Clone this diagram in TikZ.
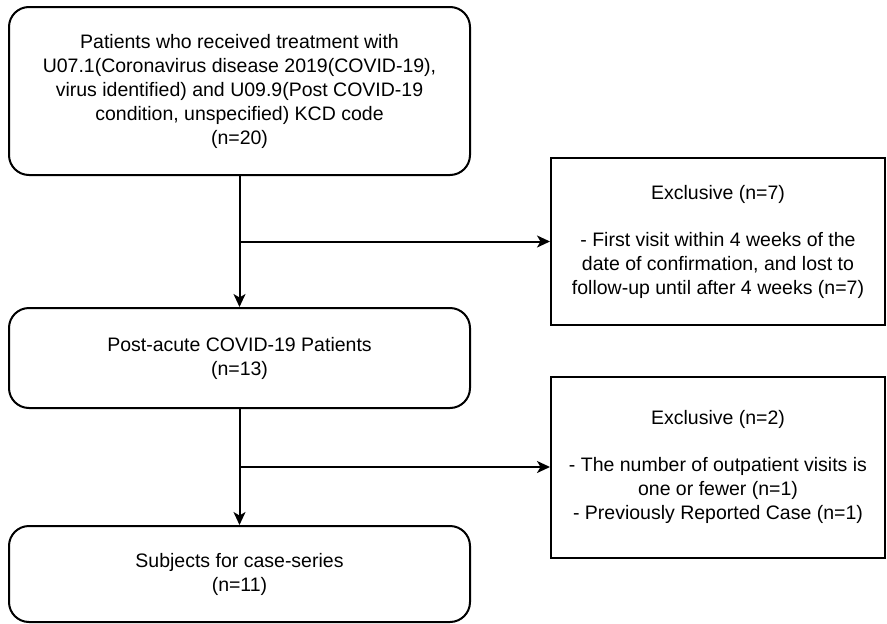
\documentclass[tikz,border=0pt]{standalone}
\usepackage{fontspec}
\setmainfont{Liberation Sans}
\usetikzlibrary{arrows.meta}
\begin{document}
\begin{tikzpicture}[x=1pt,y=-1pt,
  every node/.style={font=\fontsize{19.5}{24}\selectfont, align=center, inner sep=0pt},
  rbox/.style={draw, line width=2pt, rounded corners=20pt},
  sbox/.style={draw, line width=2pt},
  arr/.style={line width=2pt, -{Stealth[length=13pt,width=12pt,inset=3.5pt]}}]
\useasboundingbox (0,0) rectangle (887,624);
\node[rbox, minimum width=461pt, minimum height=168pt] (b1) at (239.5,91)
  {Patients who received treatment with\\U07.1(Coronavirus disease 2019(COVID-19),\\virus identified) and U09.9(Post COVID-19\\condition, unspecified) KCD code\\(n=20)};
\node[rbox, minimum width=461pt, minimum height=100pt] (b2) at (239.5,358)
  {Post-acute COVID-19 Patients\\(n=13)};
\node[rbox, minimum width=461pt, minimum height=96pt] (b3) at (239.5,574)
  {Subjects for case-series\\(n=11)};
\node[sbox, minimum width=334pt, minimum height=167pt] (e1) at (718,241.5)
  {Exclusive (n=7)\\[23pt]- First visit within 4 weeks of the\\date of confirmation, and lost to\\follow-up until after 4 weeks (n=7)};
\node[sbox, minimum width=334pt, minimum height=181pt] (e2) at (718,467)
  {Exclusive (n=2)\\[23pt]- The number of outpatient visits is\\one or fewer (n=1)\\- Previously Reported Case (n=1)};
\coordinate (j1) at (b1.south |- e1.west);
\coordinate (j2) at (b2.south |- e2.west);
\draw[arr] (b1.south) -- (b2.north);
\draw[arr] (j1) -- (e1.west);
\draw[arr] (b2.south) -- (b3.north);
\draw[arr] (j2) -- (e2.west);
\end{tikzpicture}
\end{document}
